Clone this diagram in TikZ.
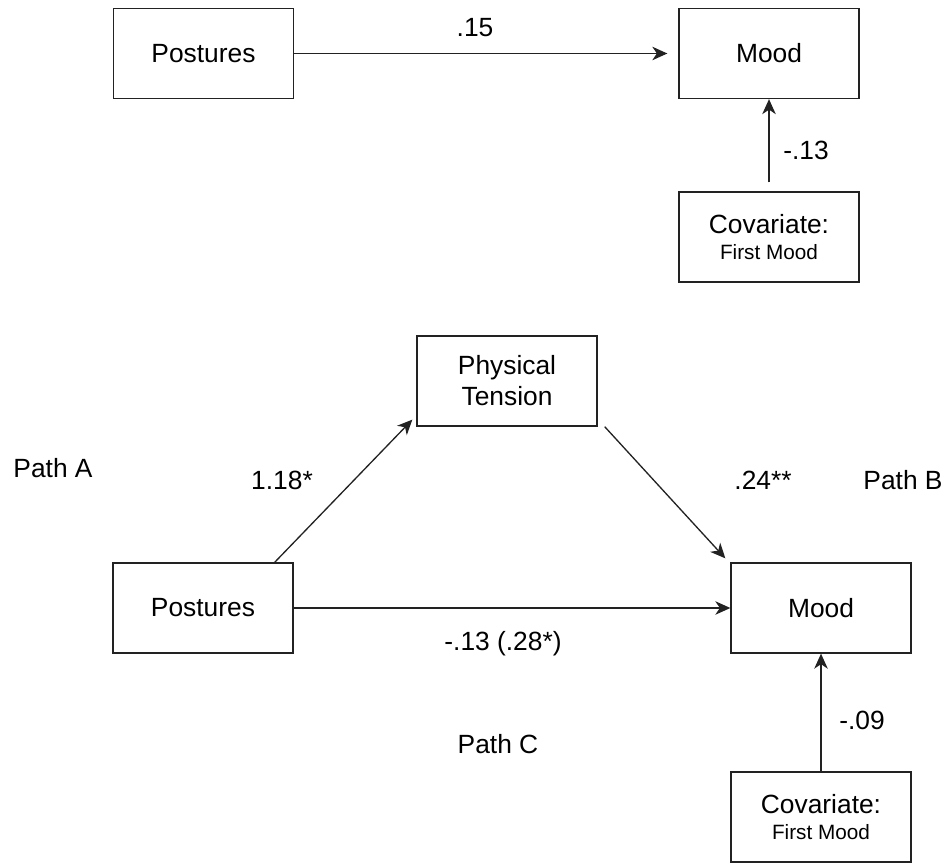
\documentclass[tikz,border=0pt]{standalone}
\usepackage{fontspec}
\setmainfont{Liberation Sans}
\usepackage{xcolor}
\usepackage{tikz}
\usetikzlibrary{arrows.meta, positioning}
\definecolor{ink}{HTML}{222222}

\begin{document}
\begin{tikzpicture}[
  every node/.style={font=\fontsize{15}{17.6}\selectfont, color=black},
  box/.style={
    rectangle, draw=ink, line width=0.75pt,
    minimum width=3.6cm, minimum height=1.8cm,
    align=center, inner sep=2pt
  },
  arr/.style={-{Stealth[length=3mm, width=2.7mm, inset=0.9mm]}, draw=ink, line width=0.75pt},
  coef/.style={inner sep=1pt}
]
\useasboundingbox (0,0) rectangle (18.94,17.26);

% --- Total effect model ---
\node[box] (pt)  at (4.07, 16.19) {Postures};
\node[box] (md)  at (15.38, 16.19) {Mood};
\node[box] (cv)  at (15.38, 12.52) {Covariate:\\[-3pt]{\fontsize{11.8}{14}\selectfont First Mood}};

\draw[arr, shorten >=0.22cm] (pt) -- (md);
\draw[arr, shorten <=0.18cm] (cv) -- (md);

\node[coef] (c15)  at (9.50, 16.70) {.15};
\node[coef] (c13)  at (16.12, 14.26) {-.13};

% --- Mediation model ---
\node[box] (ph)  at (10.14, 9.64) {Physical\\Tension};
\node[box] (pt2) at (4.06, 5.10) {Postures};
\node[box] (md2) at (16.42, 5.10) {Mood};
\node[box] (cv2) at (16.42, 0.92) {Covariate:\\[-3pt]{\fontsize{11.8}{14}\selectfont First Mood}};

\draw[arr] ([xshift=-0.38cm]pt2.north east) -- ([xshift=-0.08cm, yshift=0.14cm]ph.south west);
\draw[arr] ([xshift=0.14cm]ph.south east) -- ([xshift=-0.1cm, yshift=0.08cm]md2.north west);
\draw[arr] (pt2) -- (md2);
\draw[arr] (cv2) -- (md2);

% --- Path labels and coefficients ---
\node[coef] (pa)   at (1.06, 7.90) {Path A};
\node[coef] (c118) at (5.64, 7.66) {1.18*};
\node[coef] (c24)  at (15.26, 7.66) {.24**};
\node[coef] (pb)   at (18.06, 7.66) {Path B};
\node[coef] (c28)  at (10.06, 4.38) {-.13 (.28*)};
\node[coef] (pc)   at (9.96, 2.38) {Path C};
\node[coef] (c09)  at (17.24, 2.86) {-.09};

\end{tikzpicture}
\end{document}
